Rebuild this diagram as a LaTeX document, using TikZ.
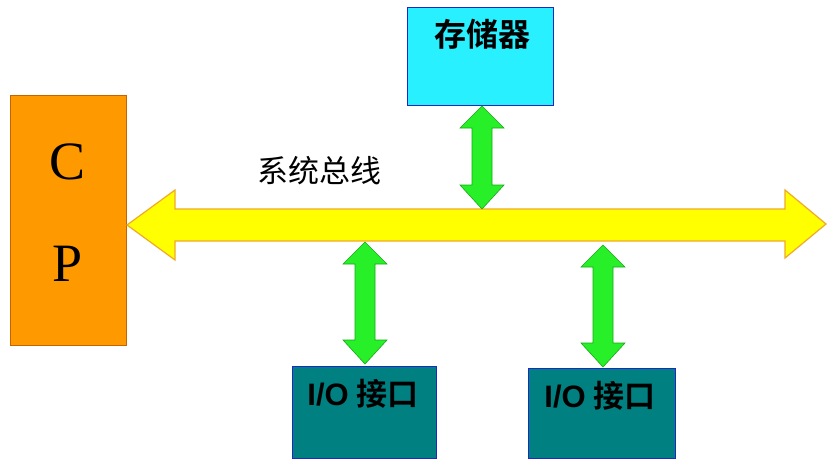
\documentclass[tikz,border=0pt]{standalone}
\usepackage{fontspec}
\setmainfont{Liberation Serif}
\newfontfamily\cjk{Noto Sans CJK SC}
\newfontfamily\cjkb{Noto Sans CJK SC Bold}
\newfontfamily\arialb{Liberation Sans Bold}
\definecolor{cpuorange}{RGB}{255,153,0}
\definecolor{cpuborder}{RGB}{200,100,0}
\definecolor{memcyan}{RGB}{40,240,255}
\definecolor{boxblue}{RGB}{30,40,200}
\definecolor{ioteal}{RGB}{0,128,128}
\definecolor{busyellow}{RGB}{255,255,0}
\definecolor{busedge}{RGB}{240,170,40}
\definecolor{arrgreen}{RGB}{40,240,40}
\definecolor{arredge}{RGB}{20,170,20}
\begin{document}
\begin{tikzpicture}[x=1pt,y=-1pt,
  box/.style={draw,line width=1pt,inner sep=0pt,outer sep=0pt},
  fat/.style={fill=arrgreen,draw=arredge,line width=0.6pt,line join=miter},
  busstyle/.style={fill=busyellow,draw=busedge,line width=1.2pt,line join=miter}]
\useasboundingbox[fill=white] (0,0) rectangle (827,459);
% boxes
\node[box,draw=cpuborder,fill=cpuorange,minimum width=116pt,minimum height=250pt] (cpu) at (68,220.5) {};
\node (c) at (68,162) {\fontsize{54}{54}\selectfont C};
\node (p) at (68,264) {\fontsize{54}{54}\selectfont P};
\node[box,draw=boxblue,fill=memcyan,minimum width=146pt,minimum height=98pt] (mem) at (480,56) {};
\node (memt) at (482,34) {\cjkb\fontsize{32}{32}\selectfont 存储器};
\node[box,draw=boxblue,fill=ioteal,minimum width=144pt,minimum height=92pt] (io1) at (364,412) {};
\node[box,draw=boxblue,fill=ioteal,minimum width=147pt,minimum height=90pt] (io2) at (601.5,413) {};
\node (io1t) at (363,394) {\fontsize{31}{31}\selectfont{\arialb I/O} \cjkb 接口};
\node (io2t) at (600,396) {\fontsize{31}{31}\selectfont{\arialb I/O} \cjkb 接口};
\node (buslabel) at (319,171) {\cjk\fontsize{31}{31}\selectfont 系统总线};
% bus
\coordinate (busL) at (127,225);
\coordinate (busR) at (826,224);
\draw[busstyle] (busL) -- (175,190) -- (175,209) -- (785,209) -- (785,190) -- (busR)
  -- (785,258) -- (785,241) -- (175,241) -- (175,260) -- cycle;
% green arrows
\foreach \cx/\ta/\tb in {482/106/209, 365/242/364, 603/245/367}{
  \draw[fat] (\cx,\ta) -- (\cx+22,\ta+22) -- (\cx+10,\ta+22) -- (\cx+10,\tb-24)
    -- (\cx+22,\tb-24) -- (\cx,\tb) -- (\cx-22,\tb-24) -- (\cx-10,\tb-24)
    -- (\cx-10,\ta+22) -- (\cx-22,\ta+22) -- cycle;
}
\end{tikzpicture}
\end{document}
